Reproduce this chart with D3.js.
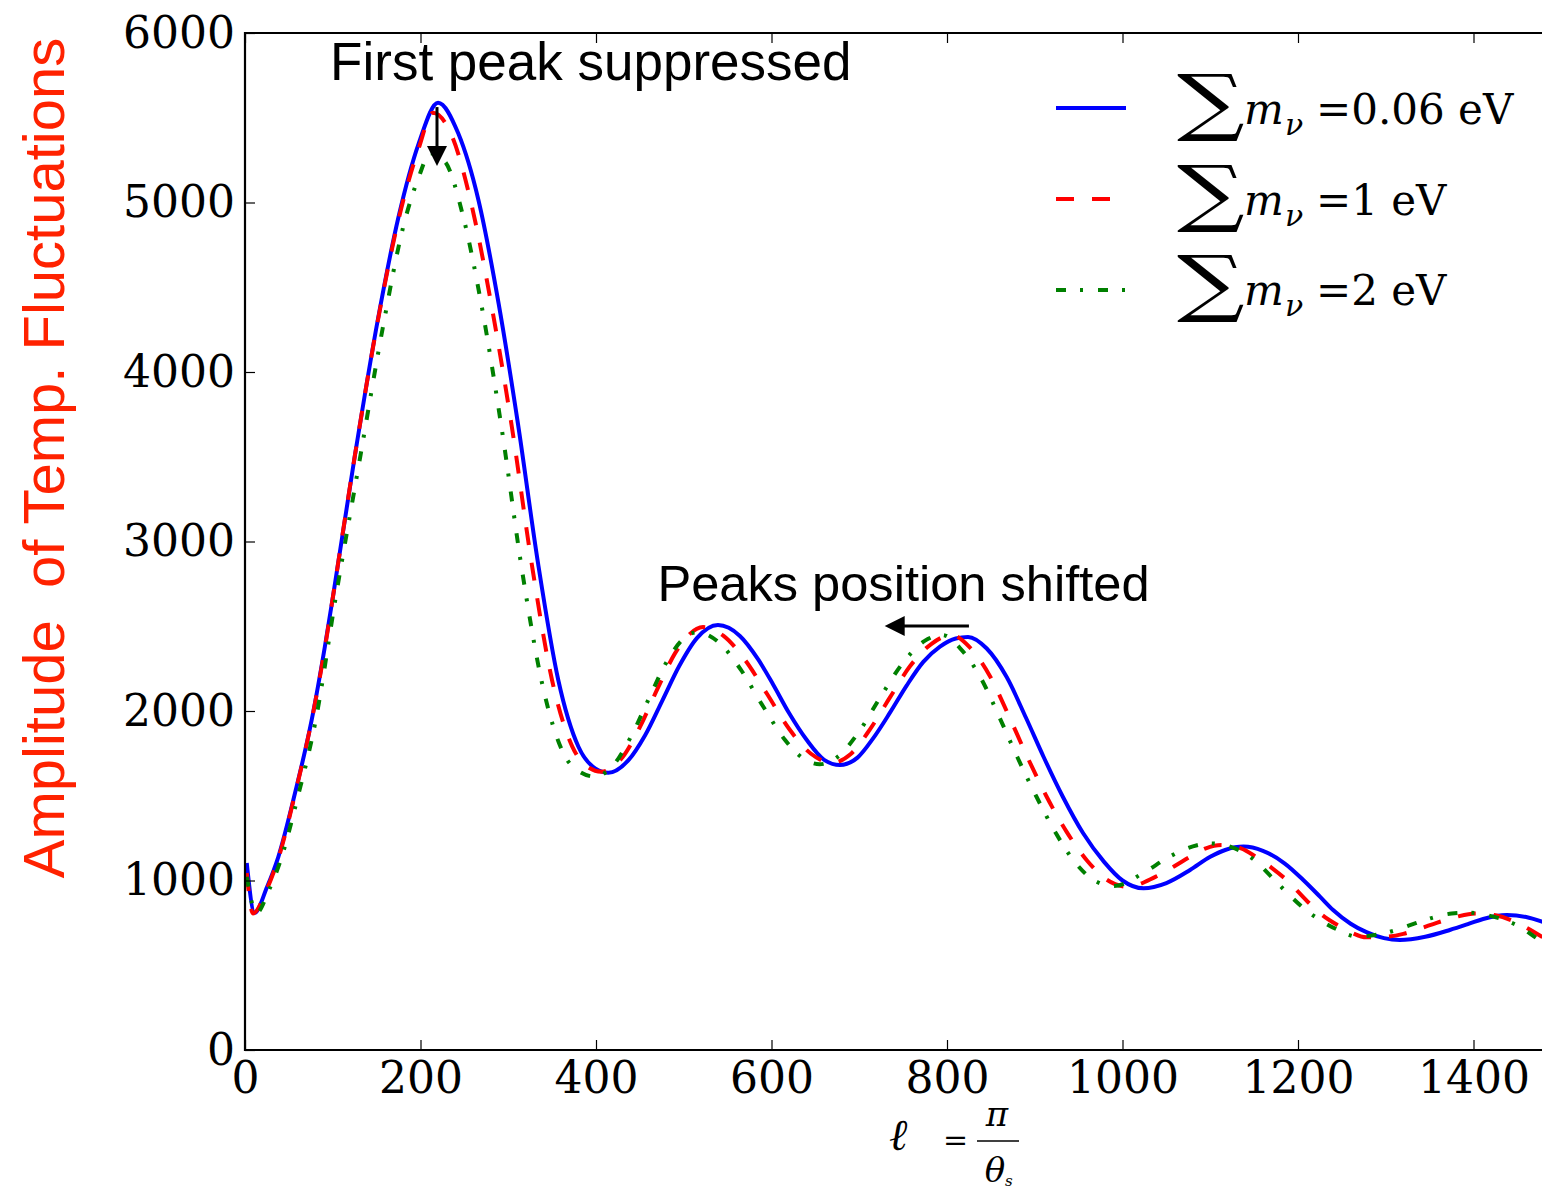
<!DOCTYPE html>
<html>
<head>
<meta charset="utf-8">
<script src="https://cdn.jsdelivr.net/npm/d3@7"></script>
<style>
  body { margin: 0; background: #fff; }
  svg { display: block; background: #fff; }
</style>
</head>
<body>
<div id="chart"></div>
<script>
// CMB temperature power spectrum for three neutrino masses

// sum m_nu = 0.06 eV
const ellA = [2, 11, 25, 38, 57, 76, 91, 101, 125, 152, 175, 198, 220, 243, 266, 289, 311, 334, 357, 380, 399, 414, 437, 456, 476, 495, 515, 539, 564, 585, 602, 620, 640, 660, 678, 698, 716, 735, 754, 773, 792, 810, 824, 845, 868, 890, 910, 932, 955, 979, 1000, 1024, 1050, 1077, 1100, 1117, 1138, 1160, 1185, 1206, 1225, 1240, 1260, 1278, 1298, 1316, 1345, 1373, 1395, 1411, 1438, 1460, 1478, 1498];
const ampA = [1103, 810, 960, 1140, 1516, 1947, 2379, 2700, 3500, 4326, 4916, 5349, 5589, 5408, 5015, 4405, 3697, 2870, 2183, 1789, 1662, 1636, 1710, 1857, 2066, 2267, 2430, 2507, 2443, 2303, 2155, 1988, 1830, 1712, 1681, 1725, 1840, 1990, 2150, 2290, 2380, 2428, 2437, 2370, 2200, 1960, 1730, 1494, 1280, 1110, 1000, 954, 985, 1062, 1140, 1180, 1200, 1175, 1100, 1003, 905, 826, 745, 695, 660, 649, 668, 708, 745, 773, 796, 785, 757, 715];

// sum m_nu = 1 eV
const ellB = [2, 9, 25, 38, 57, 76, 91, 101, 125, 152, 175, 198, 214, 236, 258, 281, 304, 327, 350, 373, 392, 406, 430, 450, 470, 490, 505, 522, 545, 570, 595, 620, 645, 669, 690, 712, 735, 758, 782, 805, 826, 849, 871, 891, 913, 936, 960, 982, 1006, 1038, 1077, 1095, 1113, 1135, 1152, 1170, 1187, 1211, 1228, 1244, 1260, 1278, 1300, 1320, 1340, 1358, 1380, 1402, 1425, 1450, 1478, 1498];
const ampB = [1044, 806, 950, 1130, 1510, 1945, 2370, 2700, 3500, 4320, 4900, 5320, 5530, 5390, 4990, 4390, 3680, 2860, 2180, 1790, 1665, 1642, 1725, 1905, 2130, 2340, 2445, 2495, 2445, 2300, 2100, 1895, 1748, 1695, 1745, 1890, 2080, 2265, 2395, 2448, 2375, 2205, 1965, 1735, 1500, 1290, 1115, 1005, 963, 1023, 1140, 1190, 1209, 1190, 1140, 1075, 1003, 875, 795, 740, 695, 665, 668, 685, 718, 750, 785, 806, 795, 750, 668, 610];

// sum m_nu = 2 eV
const ellC = [2, 13, 27, 40, 60, 80, 104, 130, 157, 180, 198, 211, 228, 248, 270, 293, 316, 340, 362, 382, 399, 420, 440, 460, 480, 500, 515, 540, 565, 590, 615, 635, 655, 675, 700, 725, 750, 775, 795, 815, 838, 860, 880, 902, 924, 947, 968, 990, 1026, 1050, 1069, 1085, 1100, 1125, 1148, 1170, 1190, 1208, 1225, 1245, 1267, 1290, 1312, 1335, 1358, 1375, 1392, 1420, 1450, 1478, 1498];
const ampC = [1022, 808, 940, 1110, 1490, 1930, 2690, 3460, 4260, 4850, 5150, 5290, 5240, 4930, 4380, 3650, 2820, 2130, 1760, 1640, 1613, 1682, 1850, 2070, 2285, 2428, 2465, 2405, 2244, 2031, 1832, 1724, 1686, 1728, 1880, 2090, 2285, 2415, 2448, 2370, 2200, 1960, 1730, 1494, 1280, 1100, 1000, 967, 1052, 1130, 1180, 1208, 1219, 1195, 1130, 1020, 915, 830, 767, 710, 669, 680, 708, 750, 787, 805, 810, 790, 735, 640, 590];

const xTicks = [0, 200, 400, 600, 800, 1000, 1200, 1400];
const yTicks = [0, 1000, 2000, 3000, 4000, 5000, 6000];
const legendLabels = ["0.06 eV", "1 eV", "2 eV"];
const colors = ["#0000ff", "#ff0000", "#008000"];
const dashes = [null, "18,18", "10,14,3,15"];

const width = 1542, height = 1194;
const plotLeft = 245, plotRight = 245 + 1500 * 0.8775, plotTop = 33, plotBottom = 1050;

const x = d3.scaleLinear().domain([0, 1500]).range([plotLeft, plotRight]);
const y = d3.scaleLinear().domain([0, 6000]).range([plotBottom, plotTop]);

const svg = d3.select("#chart").append("svg")
  .attr("width", width)
  .attr("height", height);

svg.append("defs").append("clipPath").attr("id", "plotclip")
  .append("rect")
  .attr("x", plotLeft).attr("y", plotTop)
  .attr("width", plotRight - plotLeft).attr("height", plotBottom - plotTop);

// curves
const series = [
  { ell: ellA, amp: ampA },
  { ell: ellB, amp: ampB },
  { ell: ellC, amp: ampC }
];

const line = d3.line()
  .x(d => x(d[0]))
  .y(d => y(d[1]))
  .curve(d3.curveMonotoneX);

const plot = svg.append("g").attr("clip-path", "url(#plotclip)");

series.forEach(function (s, i) {
  const pts = s.ell.map((e, j) => [e, s.amp[j]]);
  plot.append("path")
    .datum(pts)
    .attr("d", line)
    .attr("fill", "none")
    .attr("stroke", colors[i])
    .attr("stroke-width", 4)
    .attr("stroke-dasharray", dashes[i])
    .attr("stroke-linejoin", "round");
});

// axes (ticks point inward, like matplotlib)
const tickFont = "'DejaVu Serif', serif";

const xAxis = svg.append("g")
  .attr("transform", `translate(0,${plotBottom})`)
  .call(d3.axisBottom(x).tickValues(xTicks).tickFormat(d3.format("d"))
    .tickSizeInner(-10).tickSizeOuter(0).tickPadding(12));

const yAxis = svg.append("g")
  .attr("transform", `translate(${plotLeft},0)`)
  .call(d3.axisLeft(y).tickValues(yTicks).tickFormat(d3.format("d"))
    .tickSizeInner(-10).tickSizeOuter(0).tickPadding(10));

svg.append("g")
  .attr("transform", `translate(0,${plotTop})`)
  .call(d3.axisTop(x).tickValues(xTicks).tickSizeInner(-10).tickSizeOuter(0).tickFormat(""));

[xAxis, yAxis].forEach(function (g) {
  g.selectAll("text")
    .style("font-family", tickFont)
    .style("font-size", "44px")
    .attr("fill", "#000");
});
svg.selectAll(".domain").remove();
svg.selectAll(".tick line").attr("stroke", "#000").attr("stroke-width", 1.2);

// spines
svg.append("path")
  .attr("d", `M${plotRight},${plotTop}H${plotLeft}V${plotBottom}H${plotRight}`)
  .attr("fill", "none")
  .attr("stroke", "#000")
  .attr("stroke-width", 2.2);

// y axis label
svg.append("text")
  .attr("transform", "translate(64,458) rotate(-90)")
  .attr("text-anchor", "middle")
  .style("font-family", "'Liberation Sans', Arial, sans-serif")
  .style("font-size", "58px")
  .style("white-space", "pre")
  .attr("fill", "#ff2200")
  .text("Amplitude  of Temp. Fluctuations");

// x axis label: l = pi / theta_s
const xl = svg.append("g").style("font-family", tickFont).attr("fill", "#000");
xl.append("text").attr("x", 889).attr("y", 1150)
  .style("font-size", "44px").style("font-style", "italic").text("ℓ");
xl.append("text").attr("x", 943).attr("y", 1150)
  .style("font-size", "30px").text("=");
xl.append("text").attr("x", 997).attr("y", 1126).attr("text-anchor", "middle")
  .style("font-size", "34px").style("font-style", "italic").text("π");
xl.append("line")
  .attr("x1", 977).attr("x2", 1019).attr("y1", 1141).attr("y2", 1141)
  .attr("stroke", "#000").attr("stroke-width", 1.6);
xl.append("text").attr("x", 995).attr("y", 1182).attr("text-anchor", "middle")
  .style("font-size", "34px").style("font-style", "italic").text("θ");
xl.append("text").attr("x", 1005).attr("y", 1186)
  .style("font-size", "15px").style("font-style", "italic").text("s");

// annotations
const annFont = "'Liberation Sans', Arial, sans-serif";
svg.append("text")
  .attr("x", x(97)).attr("y", y(5723))
  .style("font-family", annFont).style("font-size", "53px")
  .text("First peak suppressed");

svg.append("text")
  .attr("x", x(470)).attr("y", y(2649))
  .style("font-family", annFont).style("font-size", "50.6px")
  .text("Peaks position shifted");

// arrow 1: pointing down onto the first peak
const a1x = x(218.8), a1y0 = y(5563), a1y1 = y(5215);
svg.append("line")
  .attr("x1", a1x).attr("x2", a1x).attr("y1", a1y0).attr("y2", a1y1 - 18)
  .attr("stroke", "#000").attr("stroke-width", 3);
svg.append("path")
  .attr("d", `M${a1x - 10},${a1y1 - 20}L${a1x + 10},${a1y1 - 20}L${a1x},${a1y1}Z`)
  .attr("fill", "#000");

// arrow 2: pointing left, peaks moving to lower ell
const a2y = y(2501), a2x0 = x(825), a2x1 = x(729);
svg.append("line")
  .attr("x1", a2x0).attr("x2", a2x1 + 18).attr("y1", a2y).attr("y2", a2y)
  .attr("stroke", "#000").attr("stroke-width", 3);
svg.append("path")
  .attr("d", `M${a2x1 + 20},${a2y - 10}L${a2x1 + 20},${a2y + 10}L${a2x1},${a2y}Z`)
  .attr("fill", "#000");

// legend
const legend = svg.append("g");
legendLabels.forEach(function (lab, i) {
  const by = 124 + i * 90.5;
  const ly = 108 + i * 91;
  legend.append("line")
    .attr("x1", 1056).attr("x2", 1126).attr("y1", ly).attr("y2", ly)
    .attr("stroke", colors[i]).attr("stroke-width", 4)
    .attr("stroke-dasharray", dashes[i]);
  legend.append("text")
    .attr("transform", `translate(1177,${by + 3}) scale(1.28,1)`)
    .style("font-family", tickFont).style("font-size", "74px").text("∑");
  legend.append("text").attr("x", 1244).attr("y", by)
    .style("font-family", tickFont).style("font-size", "42px").style("font-style", "italic").text("m");
  legend.append("text").attr("x", 1285).attr("y", by + 11)
    .style("font-family", tickFont).style("font-size", "30px").style("font-style", "italic").text("ν");
  legend.append("text").attr("x", 1316).attr("y", by)
    .style("font-family", tickFont).style("font-size", "42px").text("=" + lab);
});
</script>
</body>
</html>
